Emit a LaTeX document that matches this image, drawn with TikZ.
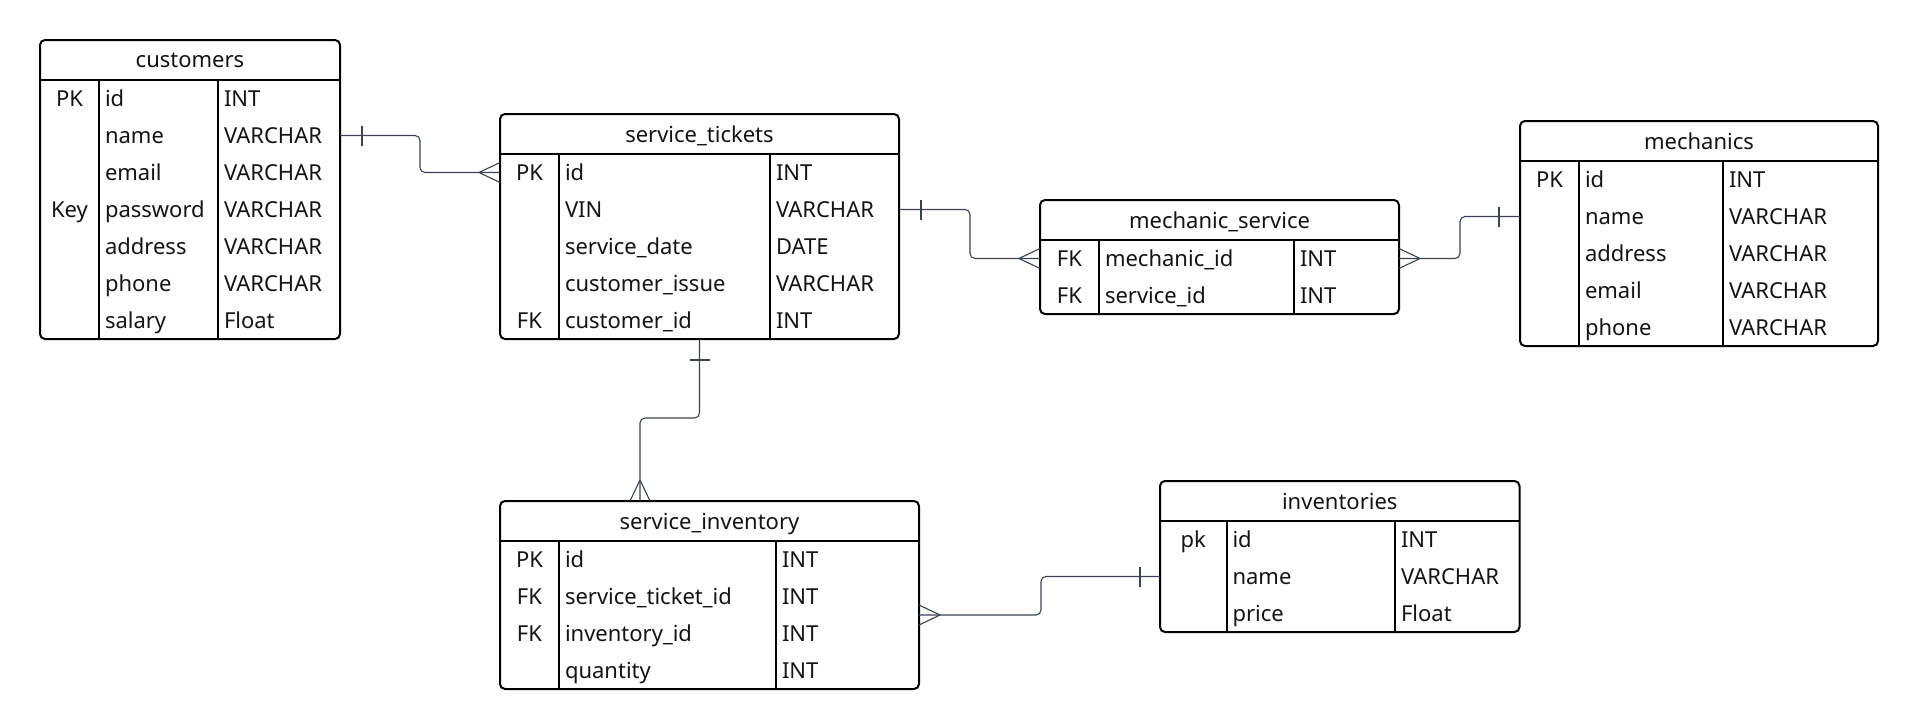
\documentclass[tikz,border=0pt]{standalone}
\usepackage{fontspec}
\setmainfont{Noto Sans}
\usepackage{tikz}
\usetikzlibrary{calc}
\definecolor{ErInk}{HTML}{141414}
\definecolor{ErLink}{HTML}{3C4350}

% one table: name, top-left, title, rows, three column widths, key/field/type list
\newcommand{\ertable}[8]{%
  \pgfmathsetlengthmacro{\fwa}{#6-6pt}%
  \pgfmathsetlengthmacro{\fwb}{#7-6pt}%
  \node[tblhead,minimum width=#5+#6+#7,anchor=north west] (#1) at #2 {#3};
  \foreach \kk/\fld/\typ [count=\i] in {#8} {
    \node[keycell,minimum width=#5,anchor=north west] (#1-k\i)
      at ([yshift={(1-\i)*18.5pt}]#1.south west) {\kk};
    \node[fldcell,text width=\fwa,anchor=north west] (#1-n\i) at (#1-k\i.north east) {\fld};
    \node[fldcell,text width=\fwb,anchor=north west] (#1-t\i) at (#1-n\i.north east) {\typ};
  }
  \draw[tblline,rounded corners=2.5pt] (#1.north west) rectangle (#1-t#4.south east);
  \draw[tblline] (#1.south west) -- (#1.south east)
    (#1-k1.north east) -- (#1-k#4.south east)
    (#1-n1.north east) -- (#1-n#4.south east);
}
% crow's foot (many) and bar (one) at a table edge
\newcommand{\manymark}[2]{%
  \begin{scope}[shift={#1},rotate=#2]
    \draw[rel] (10.5pt,0) -- (0,5pt) (10.5pt,0) -- (0,-5pt);
  \end{scope}}
\newcommand{\onemark}[3]{%
  \begin{scope}[shift={#1},rotate=#2]
    \draw[rel] (#3,-5pt) -- (#3,5pt);
  \end{scope}}

\begin{document}
\begin{tikzpicture}[
  tblhead/.style={inner sep=0pt,outer sep=0pt,minimum height=20pt,text height=9pt,
    text depth=1pt,text=ErInk,font=\fontsize{11}{13}\selectfont},
  keycell/.style={inner sep=0pt,outer sep=0pt,minimum height=18.5pt,text height=9pt,
    text depth=1.2pt,align=center,text=ErInk,font=\fontsize{11}{13}\selectfont},
  fldcell/.style={inner xsep=3pt,inner ysep=0pt,outer sep=0pt,minimum height=18.5pt,
    text height=9pt,text depth=1.2pt,align=left,text=ErInk,font=\fontsize{11}{13}\selectfont},
  tblline/.style={draw=black,line width=1pt},
  rel/.style={draw=ErLink,line width=0.55pt}
]
\useasboundingbox (0,0) rectangle (959.5pt,-364pt);

\ertable{cus}{(20pt,-20pt)}{customers}{7}{29.5pt}{59.5pt}{61pt}
  {PK/id/INT, /name/VARCHAR, /email/VARCHAR, Key/password/VARCHAR,
   /address/VARCHAR, /phone/VARCHAR, /salary/Float}
\ertable{tic}{(250pt,-57pt)}{service\_tickets}{5}{29.5pt}{105.5pt}{64.5pt}
  {PK/id/INT, /VIN/VARCHAR, /service\_date/DATE, /customer\_issue/VARCHAR,
   FK/customer\_id/INT}
\ertable{ms}{(520pt,-100pt)}{mechanic\_service}{2}{29.5pt}{97.5pt}{52.5pt}
  {FK/mechanic\_id/INT, FK/service\_id/INT}
\ertable{mec}{(760pt,-60.5pt)}{mechanics}{5}{29.5pt}{72pt}{77.5pt}
  {PK/id/INT, /name/VARCHAR, /address/VARCHAR, /email/VARCHAR, /phone/VARCHAR}
\ertable{si}{(250pt,-250.5pt)}{service\_inventory}{4}{29.5pt}{108.5pt}{71.5pt}
  {PK/id/INT, FK/service\_ticket\_id/INT, FK/inventory\_id/INT, /quantity/INT}
\ertable{inv}{(580pt,-240.5pt)}{inventories}{3}{33.25pt}{84.25pt}{62.25pt}
  {pk/id/INT, /name/VARCHAR, /price/Float}

% relations
\draw[rel,rounded corners=2.5pt] (cus-t2.east) -- ++(40pt,0) |- (tic-k1.west);
\onemark{(cus-t2.east)}{0}{11pt}
\manymark{(tic-k1.west)}{180}

\draw[rel,rounded corners=2.5pt] (tic-t2.east) -- ++(35.5pt,0) |- (ms-k1.west);
\onemark{(tic-t2.east)}{0}{11pt}
\manymark{(ms-k1.west)}{180}

\draw[rel,rounded corners=2.5pt] (ms-t1.east) -- ++(30.5pt,0) |- (mec-k2.west);
\manymark{(ms-t1.east)}{0}
\onemark{(mec-k2.west)}{180}{10.5pt}

\draw[rel,rounded corners=2.5pt] (tic-n5.south -| tic.south) -- ++(0,-39.5pt)
  -| ($(si.north west)+(70pt,0)$);
\onemark{(tic-n5.south -| tic.south)}{-90}{10.5pt}
\manymark{($(si.north west)+(70pt,0)$)}{90}

\draw[rel,rounded corners=2.5pt] (si-t2.south east) -- ++(61pt,0) |- (inv-k2.west);
\manymark{(si-t2.south east)}{0}
\onemark{(inv-k2.west)}{180}{10pt}
\end{tikzpicture}
\end{document}
